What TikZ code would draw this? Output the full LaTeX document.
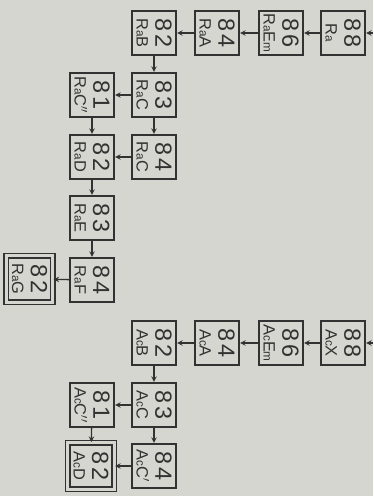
\documentclass[tikz,border=0pt]{standalone}
\usepackage{fontspec}
\setmainfont{Liberation Sans}
\usepackage{xcolor}
\definecolor{paper}{RGB}{214,214,208}
\definecolor{ink}{RGB}{50,50,50}
\newcommand\lo[1]{{\fontsize{10}{10}\selectfont #1}}
\newcommand\nm[1]{{\fontsize{14}{14}\selectfont #1}}

\begin{document}
\begin{tikzpicture}[x=0.03cm, y=-0.03cm, >=stealth, color=ink,
    box/.style={draw, line width=1.5pt, fill=paper, rotate=-90, minimum size=1.33cm,
      inner sep=0pt, align=center, font=\fontsize{20}{16}\selectfont},
    last/.style={box, line width=1.2pt, double=paper, double distance=2.8pt, minimum size=1.4cm},
    flow/.style={->, line width=1.1pt}]

    \fill[paper] (0,0) rectangle (373,496);

    % radium
    \node[box] (ra) at (343,33) {8\,8\\\nm{R\lo{a}}};
    \node[box] (raem) at (281,33) {8\,6\\\nm{R\lo{a}E\lo{m}}};
    \node[box] (raa) at (217,33) {8\,4\\\nm{R\lo{a}A}};
    \node[box] (rab) at (154,33) {8\,2\\\nm{R\lo{a}B}};
    \node[box] (rac) at (154,95) {8\,3\\\nm{R\lo{a}C}};
    \node[box] (racc) at (92,95) {8\,1\\\nm{R\lo{a}C$''$}};
    \node[box] (rac1) at (154,157) {8\,4\\\nm{R\lo{a}C}};
    \node[box] (rad) at (92,157) {8\,2\\\nm{R\lo{a}D}};
    \node[box] (rae) at (92,218) {8\,3\\\nm{R\lo{a}E}};
    \node[box] (raf) at (92,280) {8\,4\\\nm{R\lo{a}F}};
    \node[last] (rag) at (29.5,279) {8\,2\\\nm{R\lo{a}G}};
    \coordinate (rain) at (373,33);

    % actinium
    \node[box] (acx) at (343,343) {8\,8\\\nm{A\lo{c}X}};
    \node[box] (acem) at (281,343) {8\,6\\\nm{A\lo{c}E\lo{m}}};
    \node[box] (aca) at (217,343) {8\,4\\\nm{A\lo{c}A}};
    \node[box] (acb) at (154,343) {8\,2\\\nm{A\lo{c}B}};
    \node[box] (acc) at (154,405) {8\,3\\\nm{A\lo{c}C}};
    \node[box] (accc) at (92,405) {8\,1\\\nm{A\lo{c}C$''$}};
    \node[box] (acc1) at (154,466) {8\,4\\\nm{A\lo{c}C$'$}};
    \node[last] (acd) at (91,466) {8\,2\\\nm{A\lo{c}D}};
    \coordinate (acin) at (373,343);

    \draw[flow] (rain) -- (ra);
    \draw[flow] (ra) -- (raem);
    \draw[flow] (raem) -- (raa);
    \draw[flow] (raa) -- (rab);
    \draw[flow] (rab) -- (rac);
    \draw[flow] (rac) -- (racc);
    \draw[flow] (rac) -- (rac1);
    \draw[flow] (racc) -- (rad);
    \draw[flow] (rac1) -- (rad);
    \draw[flow] (rad) -- (rae);
    \draw[flow] (rae) -- (raf);
    \draw[flow] (raf) -- (rag);

    \draw[flow] (acin) -- (acx);
    \draw[flow] (acx) -- (acem);
    \draw[flow] (acem) -- (aca);
    \draw[flow] (aca) -- (acb);
    \draw[flow] (acb) -- (acc);
    \draw[flow] (acc) -- (accc);
    \draw[flow] (acc) -- (acc1);
    \draw[flow] (accc) -- (acd);
    \draw[flow] (acc1) -- (acd);
  \end{tikzpicture}
\end{document}
